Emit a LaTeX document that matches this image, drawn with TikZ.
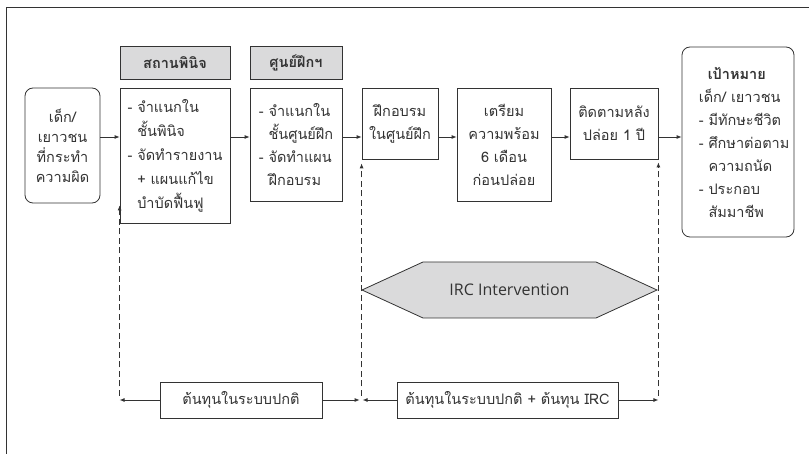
\documentclass[tikz,border=0pt]{standalone}
\usepackage{fontspec}
\setmainfont{Loma}[Script=Thai]
\newfontfamily\irclatin{Open Sans}
\usetikzlibrary{arrows.meta}
\usetikzlibrary{positioning}
\definecolor{linegray}{HTML}{333333}
\definecolor{headgray}{HTML}{DADADB}
\newcommand{\thaitext}{\fontsize{14.5}{23}\selectfont}
\newcommand{\dashind}{\phantom{-~}}
\tikzset{
  stagebox/.style={draw=linegray, line width=0.8pt, inner xsep=4pt, inner ysep=0pt,
                   text=linegray, font=\thaitext},
  headbox/.style={stagebox, fill=headgray, font=\thaitext\bfseries},
  endbox/.style={stagebox, rounded corners=8pt},
  costbox/.style={stagebox, minimum height=36pt},
  flow/.style={draw=linegray, line width=0.8pt, -{Latex[length=5pt,width=4pt]}},
  dashline/.style={flow, dash pattern=on 6pt off 3.5pt},
}
\begin{document}
\begin{tikzpicture}[x=1pt,y=-1pt]
  \useasboundingbox (0,0) rectangle (809,454);
  \draw[linegray, line width=0.8pt] (6,454) -- (6,7) -- (809,7);

  \coordinate (flowline) at (0,137);

  % stages
  \node[endbox, align=center, minimum width=75pt, minimum height=115pt,
        font=\fontsize{14.5}{20}\selectfont] (start) at (62.5,145.5)
       {เด็ก/\\เยาวชน\\ที่กระทำ\\ความผิด};
  \node[headbox, minimum width=110pt, minimum height=33pt] (hdrA) at (175,62.5) {สถานพินิจ};
  \node[stagebox, align=left, minimum width=110pt, minimum height=135pt,
        font=\fontsize{14.5}{24}\selectfont] (boxA) at (175,155.5)
       {-~จำแนกใน\\\dashind ชั้นพินิจ\\-~จัดทำรายงาน\\\dashind +~แผนแก้ไข\\\dashind บำบัดฟื้นฟู};
  \node[headbox, minimum width=92pt, minimum height=33pt] (hdrB) at (296,62.5) {ศูนย์ฝึกฯ};
  \node[stagebox, align=left, minimum width=92pt, minimum height=113pt] (boxB) at (296,144.5)
       {-~จำแนกใน\\\dashind ชั้นศูนย์ฝึก\\-~จัดทำแผน\\\dashind ฝึกอบรม};
  \node[stagebox, align=center, minimum width=76pt, minimum height=71pt] (boxC) at (400,123.5)
       {ฝึกอบรม\\ในศูนย์ฝึก};
  \node[stagebox, align=center, minimum width=94pt, minimum height=113pt] (boxD) at (504,144.5)
       {เตรียม\\ความพร้อม\\6 เดือน\\ก่อนปล่อย};
  \node[stagebox, align=center, minimum width=88pt, minimum height=71pt] (boxE) at (614,123.5)
       {ติดตามหลัง\\ปล่อย 1 ปี};
  \node[endbox, minimum width=112pt, minimum height=190pt] (goal) at (738,142) {};
  \node[font=\thaitext, text=linegray, align=left, inner sep=0pt,
        anchor=west] (goaltext) at ([xshift=17pt]goal.west)
       {\makebox[76pt]{\bfseries เป้าหมาย}\\เด็ก/ เยาวชน\\-~มีทักษะชีวิต\\-~ศึกษาต่อตาม\\\dashind ความถนัด\\-~ประกอบ\\\dashind สัมมาชีพ};

  \draw[flow] (start.east |- flowline) -- (boxA.west |- flowline);
  \draw[flow] (boxA.east |- flowline) -- (boxB.west |- flowline);
  \draw[flow] (boxB.east |- flowline) -- (boxC.west |- flowline);
  \draw[flow] (boxC.east |- flowline) -- (boxD.west |- flowline);
  \draw[flow] (boxD.east |- flowline) -- (boxE.west |- flowline);
  \draw[flow] (boxE.east |- flowline) -- (goal.west |- flowline);

  % costs
  \node[costbox, minimum width=162pt] (costA) at (241,400) {ต้นทุนในระบบปกติ};
  \node[costbox, minimum width=221pt] (costB) at (507.5,400) {ต้นทุนในระบบปกติ + ต้นทุน IRC};

  \coordinate (dA) at (boxA.south west |- costA.west);
  \coordinate (dC) at (boxC.south west |- costA.west);
  \coordinate (dE) at (boxE.south east |- costA.west);

  \draw[flow] (costA.west) -- (dA);
  \draw[flow] (costA.east) -- ([xshift=-2pt]dC);
  \draw[flow] (costB.west) -- ([xshift=1pt]dC);
  \draw[flow] (costB.east) -- (dE);

  \draw[dashline] ([yshift=4pt]dA) -- ([yshift=18pt]boxA.south west);
  \draw[dashline] ([yshift=4pt]dC) -- ([yshift=-4pt]boxC.south west);
  \draw[dashline] ([yshift=4pt]dE) -- ([yshift=-3pt]boxE.south east);

  % IRC
  \draw[draw=linegray, line width=0.8pt, fill=headgray]
    (362,290) -- (423,262) -- (596,262) -- (657,290) -- (596,318) -- (423,318) -- cycle;
  \node[font=\irclatin\fontsize{16}{18}\selectfont, text=linegray] (irc) at (509.5,290) {IRC Intervention};
\end{tikzpicture}
\end{document}
